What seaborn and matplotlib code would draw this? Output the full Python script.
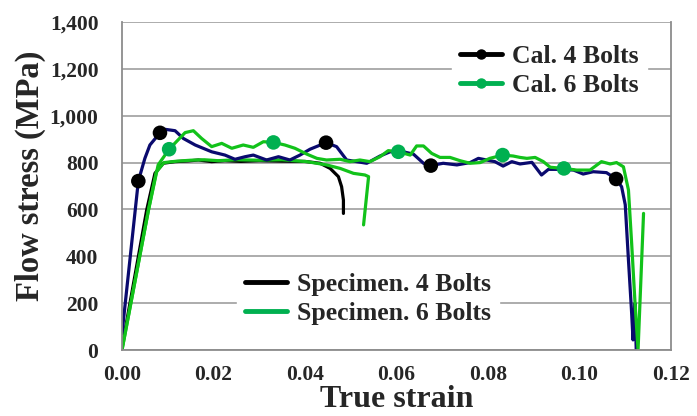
import numpy as np
import pandas as pd
import matplotlib
matplotlib.use("Agg")
import matplotlib.pyplot as plt
from matplotlib.lines import Line2D
import seaborn as sns

# ---------------- data ----------------
spec4_x = [0, 0.0054, 0.0072, 0.0090, 0.0116, 0.0145, 0.0167, 0.0196, 0.0225, 0.026, 0.030,
           0.035, 0.040, 0.0433, 0.0455, 0.0473, 0.0480, 0.0484, 0.0484]
spec4_y = [10, 598, 754, 797, 804, 807, 811, 804, 808, 805, 808,
           806, 805, 797, 775, 740, 697, 640, 583]

spec6_x = [0, 0.0058, 0.0075, 0.0092, 0.012, 0.015, 0.018, 0.021, 0.025, 0.030, 0.035,
           0.0404, 0.0447, 0.0477, 0.0506, 0.0531, 0.0539, 0.0528]
spec6_y = [0, 600, 760, 800, 806, 810, 812, 808, 812, 810, 812,
           804, 790, 775, 754, 747, 740, 534]

cal4_x = [0, 0.00357, 0.0050, 0.0061, 0.0083, 0.0094, 0.0116, 0.0134, 0.016, 0.0196, 0.0225,
          0.0247, 0.0269, 0.0287, 0.0316, 0.0342, 0.0367, 0.0389, 0.0411, 0.0446, 0.0469,
          0.0491, 0.0513, 0.0535, 0.0564, 0.0586, 0.0615, 0.0637, 0.0659, 0.0675, 0.0702,
          0.0732, 0.0761, 0.0779, 0.0797, 0.0815, 0.0833, 0.0852, 0.087, 0.0896, 0.0917,
          0.0932, 0.0957, 0.0987, 0.1008, 0.103, 0.1059, 0.108, 0.1092, 0.110, 0.1107,
          0.1114, 0.1117, 0.1121, 0.1124]
cal4_y = [70, 721, 818, 875, 927, 942, 936, 903, 875, 846, 832,
          814, 825, 832, 811, 825, 811, 832, 857, 885, 868,
          811, 804, 797, 828, 846, 846, 836, 797, 787, 797,
          790, 800, 818, 811, 804, 785, 804, 794, 801, 747,
          771, 771, 768, 751, 761, 757, 730, 697, 620, 384,
          157, 43, 200, 0]

cal6_x = [0, 0.0058, 0.0079, 0.0103, 0.0138, 0.0156, 0.0174, 0.0196, 0.0218, 0.024, 0.0265,
          0.0287, 0.0309, 0.0331, 0.0356, 0.0378, 0.0404, 0.0426, 0.0447, 0.0477, 0.0498,
          0.052, 0.0542, 0.0564, 0.0582, 0.0604, 0.063, 0.0644, 0.0659, 0.0677, 0.0695,
          0.0717, 0.0739, 0.0761, 0.0783, 0.0804, 0.0832, 0.0855, 0.087, 0.0885, 0.0903,
          0.0921, 0.0936, 0.0966, 0.0994, 0.1023, 0.1048, 0.1067, 0.1081, 0.1096, 0.1107,
          0.1114, 0.1121, 0.1128, 0.1140]
cal6_y = [0, 598, 790, 857, 928, 936, 903, 868, 882, 861, 875,
          865, 889, 886, 875, 861, 836, 818, 811, 814, 804,
          811, 804, 825, 851, 846, 832, 871, 871, 839, 822,
          822, 808, 797, 800, 818, 832, 828, 822, 818, 822,
          804, 780, 775, 768, 768, 804, 794, 800, 782, 683,
          455, 213, 0, 583]

cal4_mark_x = [0.00357, 0.0083, 0.0446, 0.0675, 0.108]
cal4_mark_y = [721, 927, 885, 787, 730]
cal6_mark_x = [0.0103, 0.0331, 0.0604, 0.0832, 0.0966]
cal6_mark_y = [857, 886, 846, 832, 775]

x_ticks = [0.00, 0.02, 0.04, 0.06, 0.08, 0.10, 0.12]
y_ticks = [0, 200, 400, 600, 800, 1000, 1200, 1400]

labels_cal = ["Cal. 4 Bolts", "Cal. 6 Bolts"]
labels_spec = ["Specimen. 4 Bolts", "Specimen. 6 Bolts"]

# ---------------- style ----------------
sns.set_style("white")
plt.rcParams['font.family'] = ['Liberation Serif', 'DejaVu Serif']
plt.rcParams['font.weight'] = 'bold'

NAVY = "#0A0A6E"
LGREEN = "#12C21A"
MGREEN = "#00B050"
GRID = "#A6A6A6"
AXC = "#8C8C8C"

fig = plt.figure(figsize=(6.97, 4.16), dpi=100)
ax = fig.add_axes([122/697, 1-350/416, (671-122)/697, (350-22)/416])

lw = 2.3
sns.lineplot(x=spec4_x, y=spec4_y, sort=False, estimator=None, color="black", lw=lw, ax=ax)
sns.lineplot(x=spec6_x, y=spec6_y, sort=False, estimator=None, color=LGREEN, lw=lw, ax=ax)
sns.lineplot(x=cal4_x, y=cal4_y, sort=False, estimator=None, color=NAVY, lw=lw, ax=ax)
sns.lineplot(x=cal6_x, y=cal6_y, sort=False, estimator=None, color=LGREEN, lw=lw, ax=ax)
sns.scatterplot(x=cal4_mark_x, y=cal4_mark_y, color="black", s=110, edgecolor="none", ax=ax, zorder=5)
sns.scatterplot(x=cal6_mark_x, y=cal6_mark_y, color=MGREEN, s=110, edgecolor="none", ax=ax, zorder=5)

ax.set_xlim(0, 0.12)
ax.set_ylim(0, 1400)
ax.set_xticks(x_ticks)
ax.set_yticks(y_ticks)
ax.set_xticklabels([f"{v:.2f}" for v in x_ticks])
ax.set_yticklabels([f"{v:,}" for v in y_ticks])
ax.grid(axis='y', color=GRID, lw=1.3)
ax.set_axisbelow(True)
for s in ['left', 'bottom', 'right']:
    ax.spines[s].set_visible(True)
    ax.spines[s].set_color(AXC)
    ax.spines[s].set_linewidth(1.3)
ax.spines['top'].set_visible(False)
ax.tick_params(axis='both', which='major', direction='out', length=4, width=1.2,
               color=AXC, labelsize=15.5)
ax.tick_params(axis='x', pad=7)
ax.tick_params(axis='y', pad=13)
for t in ax.get_xticklabels() + ax.get_yticklabels():
    t.set_fontweight('bold')

ax.set_xlabel("True strain", fontsize=23, fontweight='bold', labelpad=0)
ax.set_ylabel("Flow stress (MPa)", fontsize=23.5, fontweight='bold')
ax.yaxis.set_label_coords(-0.139, 0.53)

# legends
h_cal = [Line2D([], [], color="black", lw=3.5, marker='o', markersize=6.5),
         Line2D([], [], color=MGREEN, lw=3.5, marker='o', markersize=6.5)]
h_spec = [Line2D([], [], color="black", lw=3.5),
          Line2D([], [], color=MGREEN, lw=3.5)]

leg_kw = dict(frameon=True, fancybox=False, framealpha=1, edgecolor='white',
              handlelength=1.65, handletextpad=0.4, labelspacing=0.25, borderpad=0.3,
              borderaxespad=0, loc='center left',
              prop={'family': 'Liberation Serif', 'weight': 'bold', 'size': 18.5})
leg1 = ax.legend(h_cal, labels_cal, bbox_to_anchor=(452/697, 1-71/416),
                 bbox_transform=fig.transFigure, **leg_kw)
ax.add_artist(leg1)
leg2 = ax.legend(h_spec, labels_spec, bbox_to_anchor=(237/697, 1-299/416),
                 bbox_transform=fig.transFigure, **leg_kw)

fig.savefig("out.png", dpi=100)
